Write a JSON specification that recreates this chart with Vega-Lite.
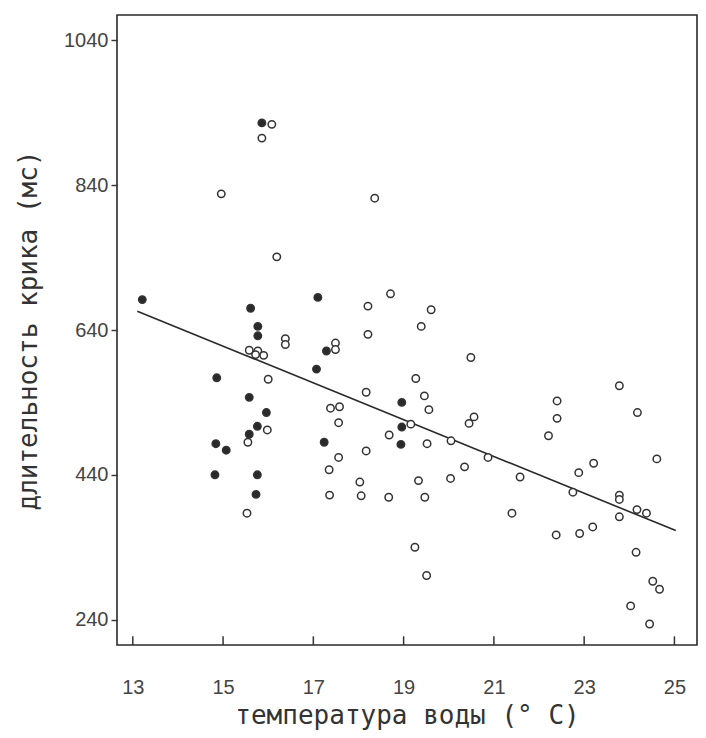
{
  "$schema": "https://vega.github.io/schema/vega-lite/v6.json",
  "width": 580,
  "height": 630,
  "autosize": {"type": "none"},
  "padding": {"left": 117, "top": 15, "right": 9, "bottom": 93},
  "background": "#ffffff",
  "config": {
    "view": {"stroke": "#2a2a2a", "strokeWidth": 1.6},
    "axis": {"grid": false, "domain": false, "labelColor": "#444444", "tickColor": "#333333", "titleColor": "#333333", "labelFont": "Liberation Sans", "labelFontSize": 20, "titleFont": "DejaVu Sans Mono", "titleFontSize": 26, "titleFontWeight": "normal", "tickWidth": 1.4}
  },
  "datasets": {
    "pts": [
      {"t": 15.86, "d": 926, "g": "f"},
      {"t": 13.21, "d": 682, "g": "f"},
      {"t": 15.61, "d": 670, "g": "f"},
      {"t": 15.77, "d": 645, "g": "f"},
      {"t": 15.77, "d": 632, "g": "f"},
      {"t": 14.86, "d": 574, "g": "f"},
      {"t": 15.58, "d": 547, "g": "f"},
      {"t": 15.96, "d": 526, "g": "f"},
      {"t": 15.76, "d": 507, "g": "f"},
      {"t": 15.58, "d": 496, "g": "f"},
      {"t": 14.84, "d": 483, "g": "f"},
      {"t": 15.07, "d": 474, "g": "f"},
      {"t": 14.82, "d": 440, "g": "f"},
      {"t": 15.76, "d": 440, "g": "f"},
      {"t": 15.73, "d": 413, "g": "f"},
      {"t": 17.1, "d": 685, "g": "f"},
      {"t": 17.29, "d": 611, "g": "f"},
      {"t": 17.07, "d": 586, "g": "f"},
      {"t": 18.96, "d": 540, "g": "f"},
      {"t": 18.96, "d": 506, "g": "f"},
      {"t": 18.94, "d": 482, "g": "f"},
      {"t": 17.24, "d": 485, "g": "f"},
      {"t": 16.08, "d": 924, "g": "o"},
      {"t": 15.86, "d": 905, "g": "o"},
      {"t": 14.96, "d": 828, "g": "o"},
      {"t": 16.19, "d": 741, "g": "o"},
      {"t": 16.38, "d": 628, "g": "o"},
      {"t": 16.38, "d": 620, "g": "o"},
      {"t": 15.58, "d": 612, "g": "o"},
      {"t": 15.77, "d": 611, "g": "o"},
      {"t": 15.72, "d": 606, "g": "o"},
      {"t": 15.9, "d": 605, "g": "o"},
      {"t": 16.0, "d": 572, "g": "o"},
      {"t": 15.98, "d": 502, "g": "o"},
      {"t": 15.55, "d": 485, "g": "o"},
      {"t": 15.53, "d": 387, "g": "o"},
      {"t": 18.36, "d": 822, "g": "o"},
      {"t": 18.71, "d": 690, "g": "o"},
      {"t": 18.21, "d": 673, "g": "o"},
      {"t": 19.61, "d": 668, "g": "o"},
      {"t": 19.39, "d": 645, "g": "o"},
      {"t": 18.21, "d": 634, "g": "o"},
      {"t": 17.49, "d": 622, "g": "o"},
      {"t": 17.49, "d": 613, "g": "o"},
      {"t": 20.49, "d": 602, "g": "o"},
      {"t": 19.27, "d": 573, "g": "o"},
      {"t": 18.17, "d": 554, "g": "o"},
      {"t": 19.46, "d": 549, "g": "o"},
      {"t": 19.56, "d": 530, "g": "o"},
      {"t": 17.38, "d": 532, "g": "o"},
      {"t": 17.58, "d": 534, "g": "o"},
      {"t": 17.56, "d": 512, "g": "o"},
      {"t": 20.56, "d": 520, "g": "o"},
      {"t": 20.45, "d": 511, "g": "o"},
      {"t": 19.16, "d": 510, "g": "o"},
      {"t": 18.68, "d": 495, "g": "o"},
      {"t": 19.52, "d": 483, "g": "o"},
      {"t": 20.05, "d": 487, "g": "o"},
      {"t": 18.17, "d": 473, "g": "o"},
      {"t": 17.56, "d": 464, "g": "o"},
      {"t": 20.87, "d": 464, "g": "o"},
      {"t": 20.35, "d": 451, "g": "o"},
      {"t": 17.35, "d": 447, "g": "o"},
      {"t": 18.03, "d": 430, "g": "o"},
      {"t": 19.33, "d": 432, "g": "o"},
      {"t": 20.04, "d": 435, "g": "o"},
      {"t": 17.36, "d": 412, "g": "o"},
      {"t": 18.06, "d": 411, "g": "o"},
      {"t": 18.67, "d": 409, "g": "o"},
      {"t": 19.47, "d": 409, "g": "o"},
      {"t": 19.25, "d": 340, "g": "o"},
      {"t": 19.51, "d": 301, "g": "o"},
      {"t": 23.78, "d": 563, "g": "o"},
      {"t": 22.4, "d": 542, "g": "o"},
      {"t": 24.18, "d": 526, "g": "o"},
      {"t": 22.4, "d": 518, "g": "o"},
      {"t": 22.21, "d": 494, "g": "o"},
      {"t": 24.61, "d": 462, "g": "o"},
      {"t": 23.21, "d": 456, "g": "o"},
      {"t": 22.88, "d": 443, "g": "o"},
      {"t": 21.58, "d": 437, "g": "o"},
      {"t": 22.75, "d": 416, "g": "o"},
      {"t": 23.78, "d": 412, "g": "o"},
      {"t": 23.78, "d": 406, "g": "o"},
      {"t": 24.17, "d": 392, "g": "o"},
      {"t": 24.38, "d": 387, "g": "o"},
      {"t": 23.78, "d": 382, "g": "o"},
      {"t": 21.4, "d": 387, "g": "o"},
      {"t": 23.19, "d": 368, "g": "o"},
      {"t": 22.38, "d": 357, "g": "o"},
      {"t": 22.9, "d": 359, "g": "o"},
      {"t": 24.15, "d": 333, "g": "o"},
      {"t": 24.52, "d": 293, "g": "o"},
      {"t": 24.67, "d": 282, "g": "o"},
      {"t": 24.03, "d": 259, "g": "o"},
      {"t": 24.45, "d": 234, "g": "o"}
    ],
    "fit": [
      {"t": 13.1, "d": 666},
      {"t": 25.03, "d": 363}
    ],
    "xticks": [
      {"t": 13}, {"t": 15}, {"t": 17}, {"t": 19}, {"t": 21}, {"t": 23}, {"t": 25}
    ]
  },
  "layer": [
    {
      "data": {"name": "xticks"},
      "mark": {"type": "rule", "color": "#333333", "strokeWidth": 1.5},
      "encoding": {
        "x": {"field": "t", "type": "quantitative"},
        "y": {"datum": 205},
        "y2": {"datum": 217}
      }
    },
    {
      "data": {"name": "fit"},
      "mark": {"type": "line", "color": "#2a2a2a", "strokeWidth": 1.6},
      "encoding": {
        "x": {"field": "t", "type": "quantitative"},
        "y": {"field": "d", "type": "quantitative"}
      }
    },
    {
      "data": {"name": "pts"},
      "mark": {"type": "point", "shape": "circle", "size": 55, "strokeWidth": 1.5, "stroke": "#333333", "opacity": 1, "filled": false},
      "encoding": {
        "x": {"field": "t", "type": "quantitative", "scale": {"domain": [12.65, 25.5], "nice": false, "zero": false},
          "axis": {"values": [13, 15, 17, 19, 21, 23, 25], "ticks": false, "labelPadding": 32, "title": "температура воды (° C)", "titlePadding": 5}},
        "y": {"field": "d", "type": "quantitative", "scale": {"domain": [205, 1075], "nice": false, "zero": false},
          "axis": {"values": [240, 440, 640, 840, 1040], "format": "d", "tickSize": 6, "labelPadding": 3, "title": "длительность крика (мс)", "titlePadding": 22}},
        "fill": {"field": "g", "type": "nominal", "scale": {"domain": ["f", "o"], "range": ["#2a2a2a", "#ffffff"]}, "legend": null}
      }
    }
  ]
}
